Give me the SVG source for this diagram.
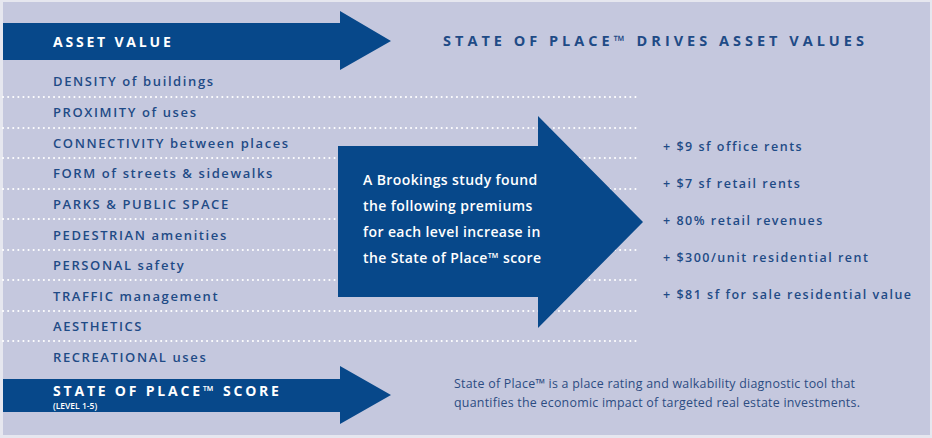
<svg xmlns="http://www.w3.org/2000/svg" width="932" height="438" viewBox="0 0 932 438">
<style>
.bg{fill:#c5c8de}
.ar{fill:#07488a}
.dot{stroke:#fff;stroke-width:2;stroke-dasharray:0.1 5;stroke-linecap:round;fill:none}
.it{font-family:"Open Sans","Liberation Sans",sans-serif;font-size:13px;fill:#1f4b86;letter-spacing:1.6px;font-weight:600}
.hd{font-family:"Open Sans","Liberation Sans",sans-serif;font-size:14px;fill:#fff;font-weight:700;letter-spacing:2.8px}
.wt{font-family:"Open Sans","Liberation Sans",sans-serif;font-size:14px;fill:#fff;font-weight:600;letter-spacing:0.4px}
.rt{font-family:"Open Sans","Liberation Sans",sans-serif;font-size:12.5px;fill:#1f4b86;letter-spacing:1.5px;font-weight:600}
.ft{font-family:"Open Sans","Liberation Sans",sans-serif;font-size:12.4px;fill:#2c4c82;letter-spacing:0.25px}
</style>
<rect x="0" y="0" width="932" height="438" fill="#e6e7ef"/>
<rect class="bg" x="3" y="2" width="927" height="433"/>
<g id="connectors">
<path class="dot" d="M3 97H640M3 128H640M3 158H640M3 189H640M3 219H640M3 250H640M3 280H640M3 311H640M3 341H640"/>
</g>
<g id="asset-value">
<polygon class="ar" points="3,23 340,23 340,11 391,41 340,70 340,60 3,60"/>
<text class="hd" x="53" y="47">ASSET VALUE</text>
</g>
<g id="title"><text class="hd" x="443" y="46" style="fill:#1f4b86;letter-spacing:4px;font-size:14.5px">STATE OF PLACE™ DRIVES ASSET VALUES</text></g>
<g id="items">
<text class="it" x="53" y="86">DENSITY of buildings</text>
<text class="it" x="53" y="117">PROXIMITY of uses</text>
<text class="it" x="53" y="148">CONNECTIVITY between places</text>
<text class="it" x="53" y="178">FORM of streets &amp; sidewalks</text>
<text class="it" x="53" y="209">PARKS &amp; PUBLIC SPACE</text>
<text class="it" x="53" y="240">PEDESTRIAN amenities</text>
<text class="it" x="53" y="270">PERSONAL safety</text>
<text class="it" x="53" y="301">TRAFFIC management</text>
<text class="it" x="53" y="331">AESTHETICS</text>
<text class="it" x="53" y="362">RECREATIONAL uses</text>
</g>
<g id="brookings">
<polygon class="ar" points="338,146 538,146 538,116 643,222 538,328 538,297 338,297"/>
<text class="wt" x="363" y="185">A Brookings study found</text>
<text class="wt" x="363" y="211">the following premiums</text>
<text class="wt" x="363" y="237">for each level increase in</text>
<text class="wt" x="363" y="263">the State of Place™ score</text>
</g>
<g id="premiums">
<text class="rt" x="663" y="151">+ $9 sf office rents</text>
<text class="rt" x="663" y="188">+ $7 sf retail rents</text>
<text class="rt" x="663" y="225">+ 80% retail revenues</text>
<text class="rt" x="663" y="262">+ $300/unit residential rent</text>
<text class="rt" x="663" y="299">+ $81 sf for sale residential value</text>
</g>
<g id="score">
<polygon class="ar" points="3,379 340,379 340,366 391,395 340,424 340,412 3,412"/>
<text class="hd" x="53" y="396">STATE OF PLACE™ SCORE</text>
<text x="53" y="409" style="font-family:'Open Sans','Liberation Sans',sans-serif;font-size:8.5px;fill:#fff;font-weight:600">(LEVEL 1-5)</text>
</g>
<g id="footer">
<text class="ft" x="454" y="388">State of Place™ is a place rating and walkability diagnostic tool that</text>
<text class="ft" x="454" y="407">quantifies the economic impact of targeted real estate investments.</text>
</g>
</svg>
